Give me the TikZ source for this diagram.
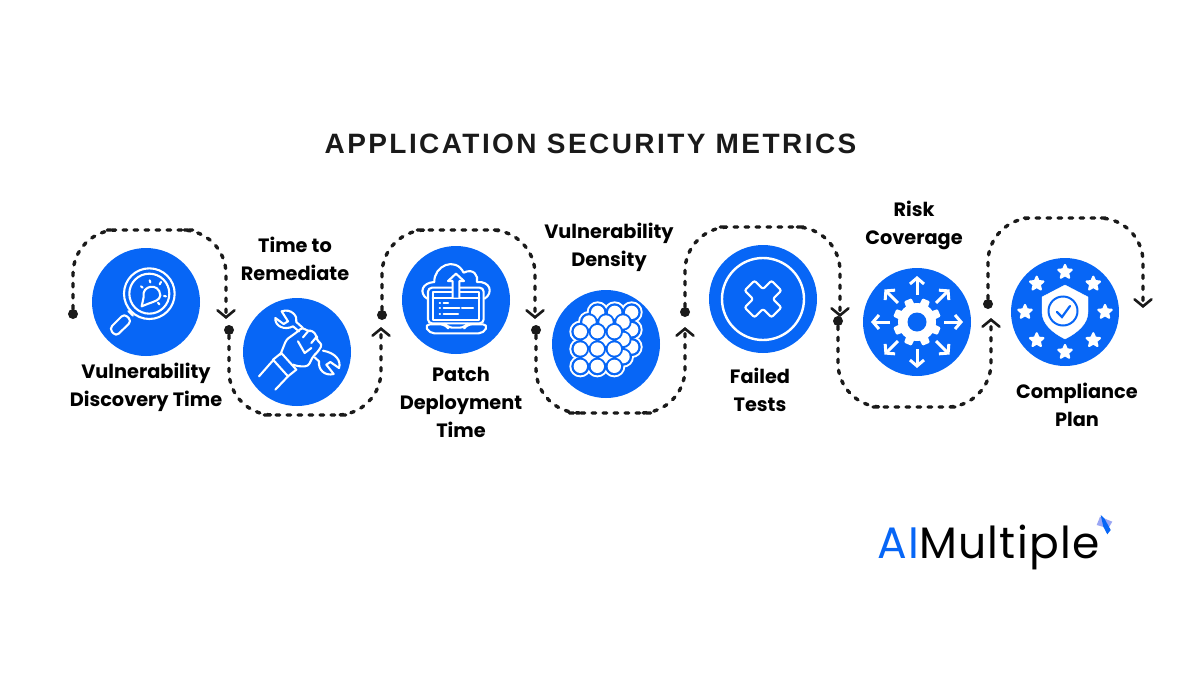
\documentclass[tikz,border=0pt]{standalone}
\usepackage{fontspec}
\usetikzlibrary{arrows.meta,shapes.geometric,calc}
\newfontfamily\titlefont[LetterSpace=8.7]{Liberation Sans}
\newfontfamily\labelfont{Poppins}
\newfontfamily\logofont[LetterSpace=3]{Poppins}
\definecolor{brand}{HTML}{0766F6}
\definecolor{haze}{HTML}{9AA6F4}
\definecolor{ink}{HTML}{1A1A1A}
\tikzset{
  badge/.style={circle,fill=brand,minimum size=108pt,inner sep=0pt},
  stud/.style={circle,fill=ink,minimum size=10pt,inner sep=0pt},
  trail/.style={draw=ink,line width=3.4pt,line cap=round,dash pattern=on 3.5pt off 7.5pt,rounded corners=44pt,-{Straight Barb[length=7pt,width=17pt,line width=2.6pt,line cap=round]}},
  caption/.style={font=\labelfont\bfseries\fontsize{19.3}{28}\selectfont,align=center,text=black,inner sep=0pt},
  icon/.style={draw=white,line width=2.1pt,line join=round,line cap=round},
  solid icon/.style={fill=white,draw=white,line join=round},
  starmark/.style={star,star points=5,star point ratio=2.2,fill=white,draw=white,line width=2.2pt,line join=round,minimum size=14pt,inner sep=0pt}
}
\begin{document}
\begin{tikzpicture}[x=1pt,y=-1pt]
  \useasboundingbox (0,0) rectangle (1200,675);
  \fill[white] (0,0) rectangle (1200,675);

  \node[font=\titlefont\bfseries\fontsize{28}{32}\selectfont,text=ink,inner sep=0pt] (title) at (590.5,143.5) {APPLICATION SECURITY METRICS};

  \node[badge] (discovery) at (146,302) {};
  \node[badge] (remediate) at (297,352) {};
  \node[badge] (patch) at (456,300) {};
  \node[badge] (density) at (606,344) {};
  \node[badge] (failed) at (763,299) {};
  \node[badge] (risk) at (917,322) {};
  \node[badge] (compliance) at (1065,312) {};

  \node[caption] (discoverylabel) at (146,387) {Vulnerability\\Discovery Time};
  \node[caption] (remediatelabel) at (295,259) {Time to\\Remediate};
  \node[caption] (patchlabel) at (461,402) {Patch\\Deployment\\Time};
  \node[caption] (densitylabel) at (609,247) {Vulnerability\\Density};
  \node[caption] (failedlabel) at (760,390) {Failed\\Tests};
  \node[caption] (risklabel) at (914,225) {Risk\\Coverage};
  \node[caption] (compliancelabel) at (1077,405) {Compliance\\Plan};

  \node[stud] (start1) at (73,314) {};
  \node[stud] (start2) at (229,330) {};
  \node[stud] (start3) at (382,315) {};
  \node[stud] (start4) at (536,330) {};
  \node[stud] (start5) at (685,312) {};
  \node[stud] (start6) at (838,321) {};
  \node[stud] (start7) at (988,304) {};
  \coordinate (peak1) at (150,230);
  \coordinate (peak2) at (305,415);
  \coordinate (peak3) at (458,230);
  \coordinate (peak4) at (610,413);
  \coordinate (peak5) at (762,227);
  \coordinate (peak6) at (914,407);
  \coordinate (peak7) at (1065,218);
  \coordinate (end1) at (226,319);
  \coordinate (end2) at (381,327);
  \coordinate (end3) at (535,319);
  \coordinate (end4) at (685,327);
  \coordinate (end5) at (840,317);
  \coordinate (end6) at (991,318);
  \coordinate (end7) at (1143,308);
  \draw[trail] (start1) |- (peak1) -| (end1);
  \draw[trail] (start2) |- (peak2) -| (end2);
  \draw[trail] (start3) |- (peak3) -| (end3);
  \draw[trail] (start4) |- (peak4) -| (end4);
  \draw[trail] (start5) |- (peak5) -| (end5);
  \draw[trail] (start6) |- (peak6) -| (end6);
  \draw[trail] (start7) |- (peak7) -| (end7);

  \begin{scope}[shift={(91,247)},scale=1/3]
    \draw[icon] (175,140) circle (76);
    \draw[icon] (175,140) circle (60);
    \draw[icon] (158,150) .. controls (150,115) and (205,105) .. (208,145) .. controls (208,160) and (185,165) .. (172,170) -- (152,178) -- cycle;
    \draw[icon] (150,118) -- (155,122) (176,100) -- (178,106) (210,105) -- (206,112) (225,148) -- (219,147) (205,172) -- (201,167);
    \draw[icon] (112,192) -- (126,206);
    \draw[icon,rounded corners=4pt] (100,200) -- (55,245) -- (75,268) -- (122,222) -- cycle;
  \end{scope}

  \begin{scope}[shift={(243,298)},scale=1/3]
    \draw[icon] (168,100) -- (150,85) .. controls (125,98) and (95,85) .. (97,60) -- (122,78) -- (135,70) -- (116,40) .. controls (145,30) and (165,55) .. (160,72) -- (180,90);
    \draw[icon] (240,158) .. controls (280,165) and (295,190) .. (288,210) -- (262,192) -- (250,200) -- (272,228) .. controls (245,235) and (225,215) .. (228,190) -- (215,178);
    \draw[icon,rounded corners=3pt] (112,170) -- (130,125) -- (165,100) -- (178,88) -- (195,100) -- (208,97) -- (222,115) -- (220,125) -- (238,140) -- (222,165) -- (212,172) -- (195,205) -- (165,205) -- (150,200);
    \draw[icon] (165,130) -- (185,165) -- (205,150) (195,100) -- (180,118) (222,115) -- (205,135);
    \draw[icon] (90,185) -- (115,165) -- (160,215) -- (135,235) -- cycle;
    \draw[icon] (92,185) -- (48,235) (135,235) -- (97,275);
  \end{scope}

  \begin{scope}[shift={(402,246)},scale=1/3]
    \draw[icon] (75,158) .. controls (50,140) and (60,110) .. (97,108) .. controls (95,60) and (160,30) .. (185,80) .. controls (215,65) and (230,90) .. (225,108) .. controls (265,105) and (275,140) .. (248,158);
    \draw[icon,fill=brand,rounded corners=4pt] (78,125) rectangle (245,232);
    \draw[icon] (92,138) rectangle (232,222);
    \draw[icon] (92,155) -- (232,155);
    \draw[icon,fill=brand] (152,155) -- (152,105) -- (138,105) -- (162,83) -- (186,105) -- (172,105) -- (172,155);
    \draw[icon] (113,172) -- (114,172) (113,186) -- (114,186) (113,203) -- (114,203);
    \draw[icon] (125,172) -- (138,172) (125,186) -- (172,186) (180,186) -- (213,186) (125,203) -- (168,203);
    \draw[icon,rounded corners=5pt] (68,235) -- (130,235) -- (137,245) -- (188,245) -- (195,235) -- (258,235) -- (245,262) -- (82,262) -- cycle;
  \end{scope}

  \begin{scope}[shift={(552,290)},scale=1/3]
    \foreach \dx/\dy in {0/0,26/-29,52/-58}
      \foreach \cx in {85,136,187}
        \foreach \cy in {125,177,229}
          \fill[white] (\cx+\dx,\cy+\dy) circle (33);
    \foreach \dx/\dy in {0/0,26/-29,52/-58}
      \foreach \cx in {85,136,187}
        \foreach \cy in {125,177,229}
          \fill[brand] (\cx+\dx,\cy+\dy) circle (27);
    \foreach \dx/\dy in {52/-58,26/-29,0/0} {
      \foreach \cx in {85,136,187}
        \foreach \cy in {125,177,229}
          \fill[brand] (\cx+\dx,\cy+\dy) circle (26);
      \foreach \cx in {85,136,187}
        \foreach \cy in {125,177,229}
          \fill[white] (\cx+\dx,\cy+\dy) circle (20);
    }
    \foreach \cx in {111,162}
      \foreach \cy in {151,203}
        \fill[white] (\cx,\cy) circle (3);
  \end{scope}

  \begin{scope}[shift={(763,299)}]
    \draw[draw=white,line width=2.4pt] (0,0) circle (41);
    \draw[icon,rotate=45,rounded corners=2pt] (-7,-7) -- (-7,-19) -- (7,-19) -- (7,-7) -- (19,-7) -- (19,7) -- (7,7) -- (7,19) -- (-7,19) -- (-7,7) -- (-19,7) -- (-19,-7) -- cycle;
  \end{scope}

  \begin{scope}[shift={(917,322)}]
    \foreach \a in {0,45,...,315}
      \draw[draw=white,line width=3pt,-{Straight Barb[length=6pt,width=14pt]},rotate=\a] (27,0) -- (46,0);
    \fill[white] (0,0) circle (19);
    \foreach \a in {0,45,...,315}
      \fill[white,rotate=\a+22.5,rounded corners=1pt] (15,-4.5) -- (24,-4) -- (24,4) -- (15,4.5) -- cycle;
    \fill[brand] (0,0) circle (9.5);
  \end{scope}

  \foreach \a in {0,45,...,315}
    \node[starmark] (star\a) at ($(compliance)+(\a:40)$) {};
  \begin{scope}[shift={(1065,312)}]
    \fill[solid icon] (0,-27) -- (23,-15) -- (23,0) .. controls (23,12) and (12,21) .. (0,27) .. controls (-12,21) and (-23,12) .. (-23,0) -- (-23,-15) -- cycle;
    \draw[brand,line width=2pt] (-2,-1) circle (14.5);
    \draw[brand,line width=2.2pt,line cap=round] (-8,0) -- (-3,5) -- (5,-6);
  \end{scope}

  \node[font=\logofont\fontsize{44}{46}\selectfont,inner sep=0pt,anchor=base west] (logo) at (877,558) {\textcolor{brand}{AI}Multiple};
  \fill[haze] (1096.7,525) -- (1100,516.7) -- (1112.3,521.7) -- (1108.3,528.3) -- cycle;
  \fill[brand] (1100.7,515) -- (1104.3,518.3) -- (1110.7,530) -- (1107.3,534.3) -- (1103.3,526.7) -- cycle;
\end{tikzpicture}
\end{document}
